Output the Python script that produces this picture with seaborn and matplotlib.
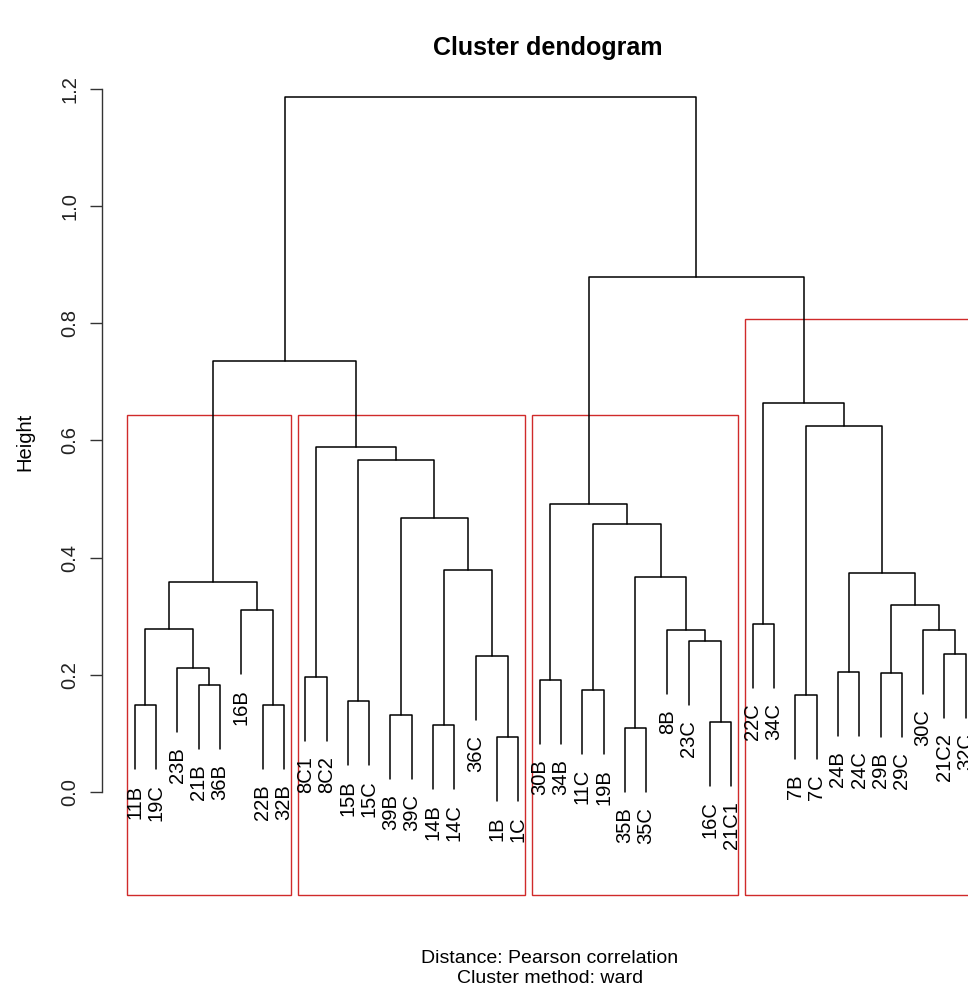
import numpy as np
import pandas as pd
import matplotlib
matplotlib.use("Agg")
import matplotlib.pyplot as plt
import seaborn as sns
from matplotlib.patches import Rectangle

# ---------------- data ----------------
leaf_labels = ["11B", "19C", "23B", "21B", "36B", "16B", "22B", "32B",
               "8C1", "8C2", "15B", "15C", "39B", "39C", "14B", "14C", "36C", "1B", "1C",
               "30B", "34B", "11C", "19B", "35B", "35C", "8B", "23C", "16C", "21C1",
               "22C", "34C", "7B", "7C", "24B", "24C", "29B", "29C", "30C", "21C2", "32C"]

# merges: str = leaf label, int = index of an earlier merge
merge_left = ["11B", "21B", "23B", 0, "22B", "16B", 3,
              "8C1", "15B", "39B", "14B", "1B", "36C", 10, 9, 8, 7,
              6,
              "30B", "11C", "35B", "16C", "23C", "8B", 20, 19, 18,
              "22C", "7B", "24B", "29B", "21C2", "30C", 30, 29, 28, 27,
              26, 17]
merge_right = ["19C", "36B", 1, 2, "32B", 4, 5,
               "8C2", "15C", "39C", "14C", "1C", 11, 12, 13, 14, 15,
               16,
               "34B", "19B", "35C", "21C1", 21, 22, 23, 24, 25,
               "34C", "7C", "24C", "29C", "32C", 31, 32, 33, 34, 35,
               36, 37]
merge_height = [0.148, 0.182, 0.212, 0.278, 0.148, 0.311, 0.359,
                0.196, 0.155, 0.131, 0.114, 0.094, 0.232, 0.378, 0.468, 0.567, 0.588,
                0.736,
                0.191, 0.174, 0.109, 0.119, 0.258, 0.277, 0.367, 0.458, 0.492,
                0.287, 0.165, 0.205, 0.203, 0.236, 0.277, 0.319, 0.373, 0.625, 0.664,
                0.879, 1.186]

cluster_sizes = [8, 11, 10, 11]
cluster_box_tops = [0.644, 0.644, 0.644, 0.807]

y_ticks = [0.0, 0.2, 0.4, 0.6, 0.8, 1.0, 1.2]
y_tick_labels = ["0.0", "0.2", "0.4", "0.6", "0.8", "1.0", "1.2"]

title_text = "Cluster dendogram"
xlab_text = "Distance: Pearson correlation"
sub_text = "Cluster method: ward"
ylab_text = "Height"

# ---------------- layout of the tree ----------------
n_leaves = len(leaf_labels)
leaf_pos = {lab: i + 1 for i, lab in enumerate(leaf_labels)}
hang = 0.1 * (max(merge_height) - min(merge_height))

node_x, node_h = [], []
rows = []
leaf_ends = []
for i, (a, b, h) in enumerate(zip(merge_left, merge_right, merge_height)):
    pts = []
    for c in (a, b):
        if isinstance(c, str):
            cx, cy = leaf_pos[c], h - hang
            leaf_ends.append((c, cx, cy))
        else:
            cx, cy = node_x[c], node_h[c]
        pts.append((cx, cy))
    (lx, ly), (rx, ry) = pts
    for k, (px, py) in enumerate([(lx, ly), (lx, h), (rx, h), (rx, ry)]):
        rows.append({"seg": i, "order": k, "x": px, "y": py})
    node_x.append((lx + rx) / 2)
    node_h.append(h)

segs = pd.DataFrame(rows)

# ---------------- figure ----------------
sns.set_theme(style="white")
plt.rcParams["font.family"] = ["Liberation Sans", "DejaVu Sans"]

W, H = 968, 993
fig = plt.figure(figsize=(W / 100, H / 100), dpi=100)
fig.patch.set_facecolor("white")
ax_left, ax_right, ax_top, ax_bottom = 101.5, 999.0, 66.5, 895.0
ax = fig.add_axes([ax_left / W, 1 - ax_bottom / H,
                   (ax_right - ax_left) / W, (ax_bottom - ax_top) / H])
ax.set_facecolor("white")

pad_x = 0.04 * (n_leaves - 1)
ax.set_xlim(1 - pad_x, n_leaves + pad_x)
ax.set_ylim(-0.176, 1.2384)

sns.lineplot(data=segs, x="x", y="y", units="seg", estimator=None, sort=False,
             color="black", linewidth=1.1, ax=ax, legend=False)

# leaf labels
for lab, lx, ly in leaf_ends:
    ax.annotate(lab, xy=(lx, ly), xytext=(0, -11), textcoords="offset points",
                rotation=90, ha="center", va="top", fontsize=14.5, color="black",
                annotation_clip=False)

# cluster rectangles
start = 0
for size, top in zip(cluster_sizes, cluster_box_tops):
    left = start + 0.66
    right = start + size + 0.33
    ybot = ax.get_ylim()[0]
    ax.add_patch(Rectangle((left, ybot), right - left, top - ybot, fill=False,
                           edgecolor="#d02a2a", linewidth=1.0, clip_on=False))
    start += size

# axes styling
for s in ["top", "right", "bottom"]:
    ax.spines[s].set_visible(False)
ax.spines["left"].set_bounds(0, 1.2)
ax.spines["left"].set_color("#333333")
ax.spines["left"].set_linewidth(1.0)
ax.set_xticks([])
ax.set_yticks(y_ticks)
ax.set_yticklabels(y_tick_labels)
ax.tick_params(axis="y", direction="out", length=9, width=1.0, pad=7,
               labelsize=14.5, colors="#333333", left=True)
for t in ax.get_yticklabels():
    t.set_rotation(90)
    t.set_va("center")
    t.set_color("#222222")
ax.set_xlabel("")
ax.set_ylabel("")
ax.grid(False)

# titles / labels
fig.text(548 / W, 1 - 55 / H, title_text, ha="center", va="baseline",
         fontsize=18, fontweight="bold", color="black")
fig.text(550 / W, 1 - 963 / H, xlab_text, ha="center", va="baseline",
         fontsize=14, color="black")
fig.text(550 / W, 1 - 983 / H, sub_text, ha="center", va="baseline",
         fontsize=14, color="black")
fig.text(25 / W, 1 - 442 / H, ylab_text, ha="center", va="center",
         rotation=90, fontsize=14.5, color="black")

fig.savefig("out.png", dpi=100, facecolor="white")
